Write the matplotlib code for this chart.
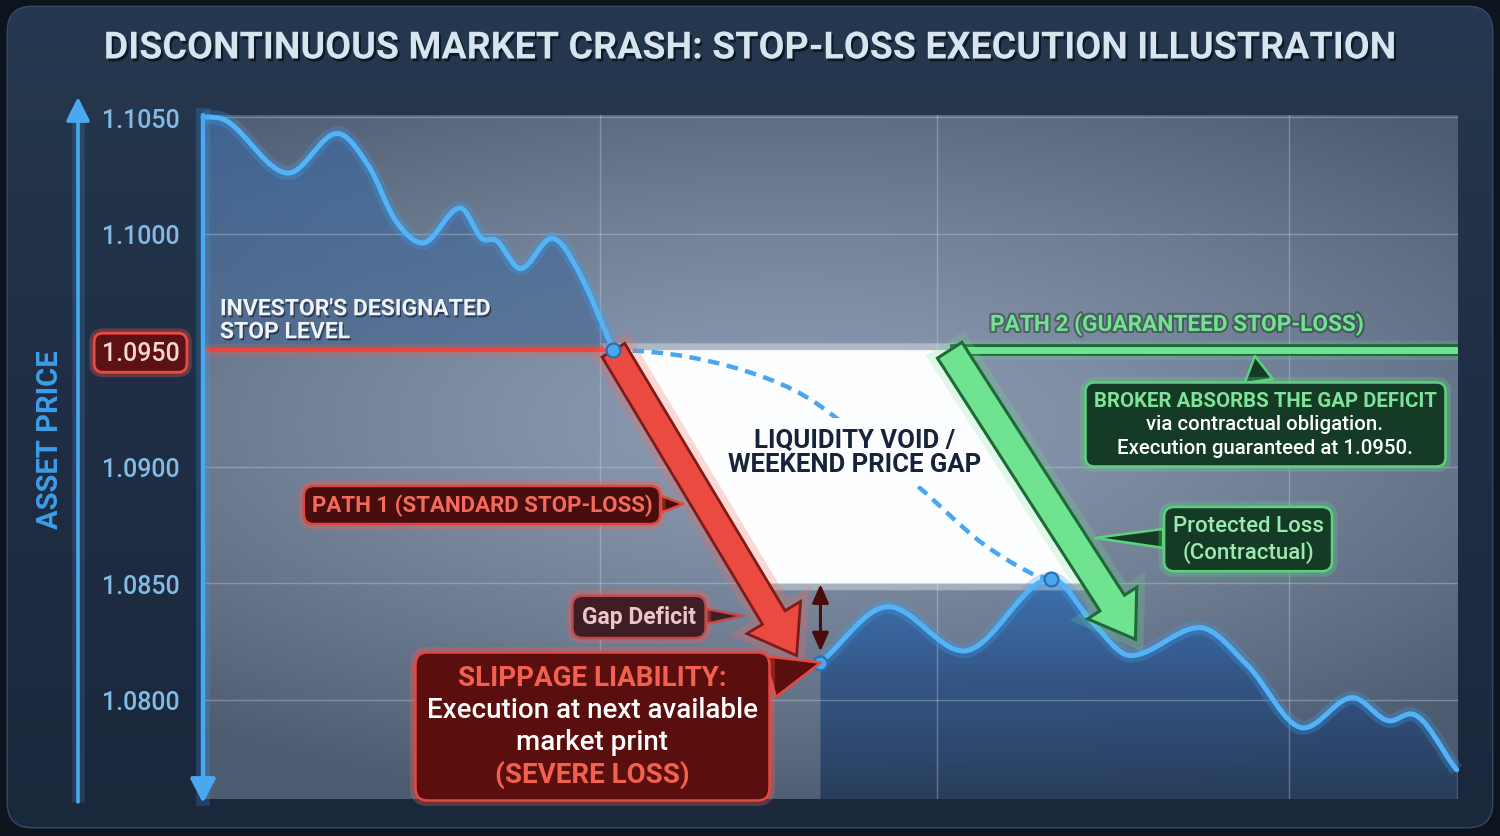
import numpy as np
import matplotlib
matplotlib.use("Agg")
import matplotlib.pyplot as plt
from matplotlib.path import Path
from matplotlib.patches import PathPatch, FancyBboxPatch, FancyArrowPatch, Polygon
from matplotlib.offsetbox import AnnotationBbox, TextArea, VPacker
import matplotlib.patheffects as pe
from matplotlib.colors import LinearSegmentedColormap, to_rgb
from matplotlib.ticker import FormatStrFormatter

plt.rcParams['font.family'] = ['Roboto', 'DejaVu Sans']

# ---------------- data ----------------
TITLE = "DISCONTINUOUS MARKET CRASH: STOP-LOSS EXECUTION ILLUSTRATION"
Y_LABEL = "ASSET PRICE"
price_ticks = [1.0800, 1.0850, 1.0900, 1.0950, 1.1000, 1.1050]
session_breaks = [31.6, 58.5, 86.5]

STOP_LEVEL = 1.0950
GAP_FLOOR = 1.0850

pre_gap_t = [0.0, 2.0, 6.8, 10.7, 13.2, 15.3, 17.5, 20.5, 22.2, 23.4, 25.3, 27.8, 29.9, 32.7]
pre_gap_p = [1.1050, 1.1048, 1.1026, 1.1043, 1.1029, 1.1006, 1.0996, 1.1011,
             1.0998, 1.0997, 1.0985, 1.0998, 1.0984, 1.0950]

gap_t = [32.7, 38.8, 44.9, 49.2, 57.1, 61.9, 66.1, 67.6]
gap_p = [1.0950, 1.0947, 1.0938, 1.0926, 1.0891, 1.0868, 1.0854, 1.0852]

post_gap_t = [49.2, 54.6, 60.6, 67.6, 70.9, 73.9, 79.4, 83.2, 87.7, 91.6, 94.6, 96.2, 99.9]
post_gap_p = [1.0816, 1.0840, 1.0821, 1.0852, 1.0833, 1.0819, 1.0831, 1.0815,
              1.0788, 1.0801, 1.0791, 1.0794, 1.0770]

exec_t, exec_p = 49.2, 1.0816          # next available market print
gap_close_t, gap_close_p = 67.6, 1.0852
red_arrow_end = (47.3, 1.0819)
green_turn_t = 59.5
green_arrow_end = (74.3, 1.0826)

X_MIN, X_MAX = 0.0, 100.0
Y_MIN, Y_MAX = 1.07575, 1.10509


def smooth_path(xs, ys, start_slope=None):
    xs = np.asarray(xs, float)
    ys = np.asarray(ys, float)
    n = len(xs)
    m = np.empty(n)
    for i in range(n):
        if i == 0:
            m[i] = (ys[1] - ys[0]) / (xs[1] - xs[0]) if start_slope is None else start_slope
        elif i == n - 1:
            m[i] = (ys[-1] - ys[-2]) / (xs[-1] - xs[-2])
        else:
            d0 = ys[i] - ys[i - 1]
            d1 = ys[i + 1] - ys[i]
            m[i] = 0.0 if d0 * d1 <= 0 else (ys[i + 1] - ys[i - 1]) / (xs[i + 1] - xs[i - 1])
    verts = [(xs[0], ys[0])]
    codes = [Path.MOVETO]
    for i in range(n - 1):
        h = xs[i + 1] - xs[i]
        verts += [(xs[i] + h / 3, ys[i] + m[i] * h / 3),
                  (xs[i + 1] - h / 3, ys[i + 1] - m[i + 1] * h / 3),
                  (xs[i + 1], ys[i + 1])]
        codes += [Path.CURVE4] * 3
    return verts, codes


# ---------------- figure & card ----------------
fig = plt.figure(figsize=(15, 8.37), dpi=100)
fig.patch.set_facecolor('#0d141e')

bg = fig.add_axes([0, 0, 1, 1], zorder=-5)
bg.axis('off')
card = FancyBboxPatch((8, 8), 1484, 820, boxstyle='round,pad=0,rounding_size=24',
                      fc='#1f2f45', ec='#34496a', lw=2, zorder=0)
bg.add_patch(card)
grad = np.linspace(0, 1, 256).reshape(-1, 1)
card_cmap = LinearSegmentedColormap.from_list('card', ['#26384f', '#1f2e44', '#1a283c'])
cim = bg.imshow(grad, cmap=card_cmap, extent=[8, 1492, 828, 8], aspect='auto', zorder=0.5)
cim.set_clip_path(card)
bg.set_xlim(0, 1500)
bg.set_ylim(837, 0)

title = bg.text(750, 49, TITLE, ha='center', va='center', fontsize=27, fontweight='bold',
                color='#d7e5f0',
                path_effects=[pe.SimplePatchShadow(offset=(1.5, -2), shadow_rgbFace='#070c14', alpha=0.7),
                              pe.Normal()])
r = fig.canvas.get_renderer()
w = title.get_window_extent(renderer=r).width
title.set_fontsize(27 * 1294 / w)

# outer price-axis arrow
bg.plot([78, 78], [803, 110], color='#4aa8f0', lw=9, alpha=0.18, solid_capstyle='butt')
bg.annotate('', xy=(78, 98), xytext=(78, 803),
            arrowprops=dict(arrowstyle='-|>,head_length=0.9,head_width=0.45', color='#4aa8f0',
                            lw=2.6, mutation_scale=16, shrinkA=0, shrinkB=0))

# ---------------- main axes ----------------
ax = fig.add_axes([203 / 1500, 37 / 837, 1255 / 1500, 684 / 837])
ax.patch.set_alpha(0)
for s in ax.spines.values():
    s.set_visible(False)

# radial background
H, W = 300, 600
yy, xx = np.mgrid[0:1:H * 1j, 0:1:W * 1j]
rr = np.sqrt(((xx - 0.47) / 0.78) ** 2 + ((yy - 0.55) / 0.58) ** 2)
tt = np.clip(rr, 0, 1) ** 1.3
c0 = np.array(to_rgb('#8d9cb2'))
c1 = np.array(to_rgb('#4d5b70'))
img = c0 * (1 - tt[..., None]) + c1 * tt[..., None]
ax.imshow(img, extent=[X_MIN, X_MAX, Y_MIN, Y_MAX], origin='lower', aspect='auto', zorder=0)

# paths
pre_v, pre_c = smooth_path(pre_gap_t, pre_gap_p, start_slope=0.0)
post_v, post_c = smooth_path(post_gap_t, post_gap_p)
gap_v, gap_c = smooth_path(gap_t, gap_p, start_slope=0.0)


def gradient_fill(verts, codes, colors, y_top, y_bot, x0, x1, alpha, z):
    patch = PathPatch(Path(verts, codes), fc='none', ec='none', transform=ax.transData)
    ax.add_patch(patch)
    cmap = LinearSegmentedColormap.from_list('f', colors)
    im = ax.imshow(grad, cmap=cmap, extent=[x0, x1, y_bot, y_top], origin='upper',
                   aspect='auto', alpha=alpha, zorder=z)
    im.set_clip_path(patch)


# fill under pre-gap decline (down to stop level)
fv = pre_v + [(pre_gap_t[0], STOP_LEVEL), (pre_gap_t[0], pre_gap_p[0])]
fc_ = pre_c + [Path.LINETO, Path.CLOSEPOLY]
gradient_fill(fv, fc_, ['#3669a8', '#42648f'], max(pre_gap_p), STOP_LEVEL,
              pre_gap_t[0], pre_gap_t[-1], 0.6, 0.3)

# fill under post-gap trading (down to axis floor)
fv = post_v + [(post_gap_t[-1], Y_MIN), (post_gap_t[0], Y_MIN), (post_gap_t[0], post_gap_p[0])]
fc_ = post_c + [Path.LINETO, Path.LINETO, Path.CLOSEPOLY]
gradient_fill(fv, fc_, ['#3670b3', '#2d5083', '#243a58'], max(post_gap_p), Y_MIN,
              post_gap_t[0], post_gap_t[-1], 0.88, 0.3)

# grid
ax.set_yticks(price_ticks)
ax.yaxis.set_major_formatter(FormatStrFormatter('%.4f'))
ax.set_xticks(session_breaks)
ax.tick_params(axis='x', length=0, labelbottom=False)
ax.tick_params(axis='y', length=0, pad=17, labelsize=18, labelcolor='#84bbe6')
for lbl in ax.get_yticklabels():
    lbl.set_fontweight('medium')
ax.set_axisbelow(True)
ax.grid(True, color='#d0d8e4', alpha=0.35, lw=1.0)

stop_lbl = ax.yaxis.get_major_ticks()[price_ticks.index(STOP_LEVEL)].label1
stop_lbl.set_color('#f7d6d2')
stop_lbl.set_bbox(dict(boxstyle='round,pad=0.3,rounding_size=0.35', fc='#5c1212', ec='#ea4a41', lw=2))
stop_lbl.get_bbox_patch().set_path_effects([pe.Stroke(linewidth=7, foreground='#ff5a4e', alpha=0.3),
                                            pe.Normal()])

ax.set_ylabel(Y_LABEL, fontsize=21, fontweight='bold', color='#3d9de8', va='center')
ax.yaxis.set_label_coords((50 - 203) / 1255, (800 - 440) / 684)


# white liquidity gap region
def x_at(p0, p1, price):
    (xa, ya), (xb, yb) = p0, p1
    return xa + (price - ya) * (xb - xa) / (yb - ya)


red_start = (pre_gap_t[-1], STOP_LEVEL)
green_start = (green_turn_t, STOP_LEVEL)
void = Polygon([red_start, green_start,
                (x_at(green_start, green_arrow_end, GAP_FLOOR), GAP_FLOOR),
                (x_at(red_start, red_arrow_end, GAP_FLOOR), GAP_FLOOR)],
               closed=True, fc='#fcfdfe', ec='none', zorder=1)
void.set_path_effects([pe.Stroke(linewidth=10, foreground='white', alpha=0.35), pe.Normal()])
ax.add_patch(void)

# stop level line
ax.plot([pre_gap_t[0], pre_gap_t[-1]], [STOP_LEVEL] * 2, color='#ff5a4e', lw=9, alpha=0.22, zorder=2.4)
ax.plot([pre_gap_t[0], pre_gap_t[-1]], [STOP_LEVEL] * 2, color='#ee463d', lw=3, zorder=2.6)

# hypothetical continuous path (dashed)
ax.add_patch(PathPatch(Path(gap_v, gap_c), fc='none', ec='#4aa6ee', lw=3.2,
                       linestyle=(0, (2.6, 1.7)), zorder=2.5))

# price line
for verts, codes in [(pre_v, pre_c), (post_v, post_c)]:
    ax.add_patch(PathPatch(Path(verts, codes), fc='none', ec='#3d9ff0', lw=10, alpha=0.28,
                           zorder=2.9, clip_on=False))
    ax.add_patch(PathPatch(Path(verts, codes), fc='none', ec='#52b3f7', lw=3.6,
                           capstyle='round', joinstyle='round', zorder=3, clip_on=False))

# left spine with downward arrow
ax.plot([0, 0], [0, 1], transform=ax.transAxes, color='#3d9ff0', lw=10, alpha=0.22,
        clip_on=False, zorder=5)
ax.annotate('', xy=(0, -0.006), xycoords='axes fraction', xytext=(0, 1.0), textcoords='axes fraction',
            arrowprops=dict(arrowstyle='-|>,head_length=0.8,head_width=0.42', color='#4aa8f0', lw=3.2,
                            mutation_scale=18, shrinkA=0, shrinkB=0),
            annotation_clip=False, zorder=6)

# path 1 red arrow
red_arrow = FancyArrowPatch(red_start, red_arrow_end,
                            arrowstyle='simple,head_length=32,head_width=45,tail_width=19',
                            mutation_scale=1, fc='#eb4a40', ec='#7e1b16', lw=2, shrinkA=0, shrinkB=0,
                            joinstyle='miter', zorder=4)
red_arrow.set_path_effects([pe.Stroke(linewidth=12, foreground='#ff6a5a', alpha=0.25), pe.Normal()])
ax.add_patch(red_arrow)

# path 2 green guaranteed line + arrow
ax.plot([green_turn_t, X_MAX], [STOP_LEVEL] * 2, color='#6fe38f', lw=14, alpha=0.18, zorder=3.8,
        solid_capstyle='butt')
ax.plot([green_turn_t, X_MAX], [STOP_LEVEL] * 2, color='#6fe38f', lw=5, solid_capstyle='butt', zorder=4,
        path_effects=[pe.Stroke(linewidth=8.5, foreground='#1d6a36'), pe.Normal()])
green_arrow = FancyArrowPatch(green_start, green_arrow_end,
                              arrowstyle='simple,head_length=31,head_width=42,tail_width=21',
                              mutation_scale=1, fc='#6fe38f', ec='#1d6a36', lw=2.2, shrinkA=0, shrinkB=0,
                              joinstyle='miter', zorder=4.1)
green_arrow.set_path_effects([pe.Stroke(linewidth=12, foreground='#6fe38f', alpha=0.2), pe.Normal()])
ax.add_patch(green_arrow)

# dots
for t, p in [(pre_gap_t[-1], STOP_LEVEL), (exec_t, exec_p), (gap_close_t, gap_close_p)]:
    ax.plot([t], [p], 'o', ms=10, mfc='#4aa8ef', mec='#2a6fb0', mew=1.6, zorder=7, clip_on=False)

# gap deficit double arrow
ax.annotate('', xy=(exec_t, exec_p), xytext=(exec_t, GAP_FLOOR),
            arrowprops=dict(arrowstyle='<|-|>,head_length=0.8,head_width=0.35', color='#4a0b0b', lw=2.2,
                            mutation_scale=14, shrinkA=0.5, shrinkB=8), zorder=6)


# ---------------- annotations ----------------
def callout(text, center, tip, fs, color, fc, ec, weight='bold', pad=0.4, tail=0.8, glow=None,
            zorder=8, lw=1.8, rs=0.45):
    kw = dict(xy=tip if tip is not None else center, xytext=center, xycoords='data', textcoords='data',
              ha='center', va='center', multialignment='center', fontsize=fs, fontweight=weight,
              color=color, zorder=zorder, annotation_clip=False,
              bbox=dict(boxstyle=f'round,pad={pad},rounding_size={rs}', fc=fc, ec=ec, lw=lw))
    if tip is not None:
        kw['arrowprops'] = dict(arrowstyle=f'wedge,tail_width={tail},shrink_factor=0.5',
                                fc=fc, ec=ec, lw=lw, shrinkA=0, shrinkB=0)
    a = ax.annotate(text, **kw)
    if glow:
        a.get_bbox_patch().set_path_effects([pe.Stroke(linewidth=8, foreground=glow, alpha=0.3),
                                             pe.Normal()])
    return a


def multi_callout(lines, center, tip, fs, fc, ec, pad, tail, glow, sep=0.0, lw=1.8, rs=0.45):
    areas = [TextArea(txt, textprops=dict(color=c, fontsize=fs, fontweight=wt)) for txt, c, wt in lines]
    pack = VPacker(children=areas, align='center', pad=0, sep=sep)
    ab = AnnotationBbox(pack, tip, xybox=center, xycoords='data', boxcoords='data',
                        box_alignment=(0.5, 0.5), frameon=True, pad=pad, fontsize=fs,
                        bboxprops=dict(boxstyle=f'round,pad={pad},rounding_size={rs}', fc=fc, ec=ec, lw=lw),
                        arrowprops=dict(arrowstyle=f'wedge,tail_width={tail},shrink_factor=0.5',
                                        fc=fc, ec=ec, lw=lw, shrinkA=0, shrinkB=0),
                        annotation_clip=False, zorder=8)
    ab.patch.set_path_effects([pe.Stroke(linewidth=8, foreground=glow, alpha=0.3), pe.Normal()])
    ax.add_artist(ab)
    return ab


ax.annotate("INVESTOR'S DESIGNATED\nSTOP LEVEL", xy=(1.35, STOP_LEVEL), xytext=(0, 5),
            textcoords='offset points', ha='left', va='bottom', fontsize=16.5, fontweight='bold',
            color='#f0f3f7', linespacing=1.0, zorder=8,
            path_effects=[pe.SimplePatchShadow(offset=(1, -1.5), shadow_rgbFace='#101a28', alpha=0.6),
                          pe.Normal()])

callout("PATH 1 (STANDARD STOP-LOSS)", (22.23, 1.08836), (38.25, 1.08840), 16, '#f46a5c',
        '#4a0d0d', '#e0463f', pad=0.35, tail=0.75, glow='#ff5a4e')

callout("Gap Deficit", (34.74, 1.08356), (43.0, 1.08360), 16.5, '#ecc6c6',
        '#3e1d25', '#c24a4a', pad=0.42, tail=0.65, glow='#ff5a4e')

multi_callout([("SLIPPAGE LIABILITY:", '#f2604f', 'bold'),
               ("Execution at next available", '#ffffff', 'medium'),
               ("market print", '#ffffff', 'medium'),
               ("(SEVERE LOSS)", '#f2604f', 'bold')],
              (31.0, 1.07888), (exec_t, exec_p), 20, '#5a0e0e', '#e6473f',
              pad=0.42, tail=1.1, glow='#ff5a4e', sep=3.5)

ax.text(51.95, 1.09063, "LIQUIDITY VOID /\nWEEKEND PRICE GAP", ha='center', va='center',
        fontsize=18.5, fontweight='bold', color='#16233a', linespacing=1.0, zorder=2.8,
        bbox=dict(boxstyle='square,pad=0.4', fc='#fcfdfe', ec='none'))

ax.text(62.71, 1.09612, "PATH 2 (GUARANTEED STOP-LOSS)", ha='left', va='center', fontsize=16.3,
        fontweight='bold', color='#72e290', zorder=8,
        path_effects=[pe.Stroke(linewidth=3, foreground='#1c3a2a', alpha=0.5), pe.Normal()])

multi_callout([("BROKER ABSORBS THE GAP DEFICIT", '#7fe39b', 'bold'),
               ("via contractual obligation.", '#ffffff', 'medium'),
               ("Execution guaranteed at 1.0950.", '#ffffff', 'medium')],
              (84.62, 1.09184), (83.82, 1.09475), 14.7, '#153a25', '#5ed17e',
              pad=0.42, tail=1.0, glow='#5ed17e', sep=3.5)

callout("Protected Loss\n(Contractual)", (83.27, 1.08690), (71.08, 1.08695), 16, '#9de9b2',
        '#153a25', '#5ed17e', weight='medium', pad=0.38, tail=0.85, glow='#5ed17e')

ax.set_xlim(X_MIN, X_MAX)
ax.set_ylim(Y_MIN, Y_MAX)

fig.savefig('out.png', dpi=100, facecolor=fig.get_facecolor())
